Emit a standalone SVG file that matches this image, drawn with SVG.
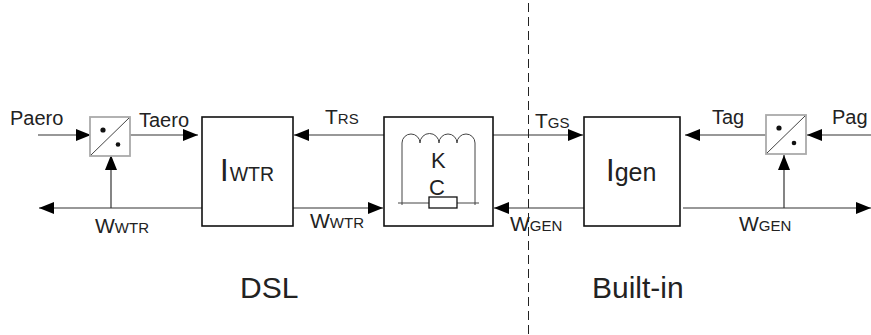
<svg xmlns="http://www.w3.org/2000/svg" width="871" height="335" viewBox="0 0 871 335">
<style>
text{font-family:"Liberation Sans",Arial,sans-serif;fill:#222;font-size:20px}
.big{font-size:31px}
.w{font-size:21px}
.s{font-size:15px}
.title{font-size:30px}
.ln{fill:none;stroke:#333;stroke-width:1.2}
.bx{fill:#fff;stroke:#111;stroke-width:1.6}
.cv{fill:#fff;stroke:#aaa;stroke-width:1.8}
.thin{fill:none;stroke:#444;stroke-width:1}
</style>
<defs>
<marker id="a" markerUnits="userSpaceOnUse" markerWidth="15" markerHeight="12" refX="15" refY="6" orient="auto"><path d="M0 0L15 6L0 12Z" fill="#000"/></marker>
</defs>
<g id="connectors">
<path class="ln" d="M38 135H91" marker-end="url(#a)"/>
<path class="ln" d="M130 135H198" marker-end="url(#a)"/>
<path class="ln" d="M202 208H39" marker-end="url(#a)"/>
<path class="ln" d="M111 208V155" marker-end="url(#a)"/>
<path class="ln" d="M384 135H294" marker-end="url(#a)"/>
<path class="ln" d="M293 208H383" marker-end="url(#a)"/>
<path class="ln" d="M493 135H583" marker-end="url(#a)"/>
<path class="ln" d="M584 208H494" marker-end="url(#a)"/>
<path class="ln" d="M766 135H685" marker-end="url(#a)"/>
<path class="ln" d="M871 135H807" marker-end="url(#a)"/>
<path class="ln" d="M683 208H871" marker-end="url(#a)"/>
<path class="ln" d="M784 208V155" marker-end="url(#a)"/>
<path d="M528.500 3V335" fill="none" stroke="#222" stroke-width="1" stroke-dasharray="9 5"/>
</g>
<g id="conv-left">
<rect class="cv" x="90" y="117" width="40" height="39"/>
<path class="thin" d="M91 155L129 118"/>
<circle cx="103" cy="130" r="2.600" fill="#111"/><circle cx="118" cy="144.500" r="2.300" fill="#111"/>
</g>
<g id="iwtr">
<rect class="bx" x="202" y="117" width="91" height="109"/>
<text x="220" y="181" class="big">I<tspan dx="1" style="font-size:19.500px">WTR</tspan></text>
</g>
<g id="shaft">
<rect class="bx" x="384" y="117" width="109" height="109"/>
<path class="thin" d="M402 205V143a9 9 0 0 1 18 0a9 9 0 0 1 19 0a9 9 0 0 1 18 0a9 9 0 0 1 18 0V205"/>
<path class="thin" d="M398 203H429M457 203H479"/>
<rect x="429" y="197" width="28" height="11" fill="#fff" stroke="#111" stroke-width="1.300"/>
<text x="431" y="168" style="font-size:22px">K</text>
<text x="429" y="195" style="font-size:22px">C</text>
</g>
<g id="igen">
<rect class="bx" x="584" y="117" width="96" height="109"/>
<text x="606" y="181" class="big">I<tspan style="font-size:25px">gen</tspan></text>
</g>
<g id="conv-right">
<rect class="cv" x="766" y="115" width="40" height="39"/>
<path class="thin" d="M767 153L805 116"/>
<circle cx="779" cy="128" r="2.600" fill="#111"/><circle cx="794" cy="143" r="2.300" fill="#111"/>
</g>
<g id="labels">
<text x="10" y="125">Paero</text>
<text x="139" y="127">Taero</text>
<text x="95" y="233" class="w">W<tspan class="s">WTR</tspan></text>
<text x="325" y="124" class="w">T<tspan class="s">RS</tspan></text>
<text x="310" y="228" class="w">W<tspan class="s">WTR</tspan></text>
<text x="535" y="128" class="w">T<tspan class="s">GS</tspan></text>
<text x="510" y="231" class="w">W<tspan class="s">GEN</tspan></text>
<text x="712" y="124">Tag</text>
<text x="832" y="124">Pag</text>
<text x="739" y="231" class="w">W<tspan class="s">GEN</tspan></text>
<text x="240" y="298" class="title">DSL</text>
<text x="592" y="298" class="title">Built-in</text>
</g>
</svg>
